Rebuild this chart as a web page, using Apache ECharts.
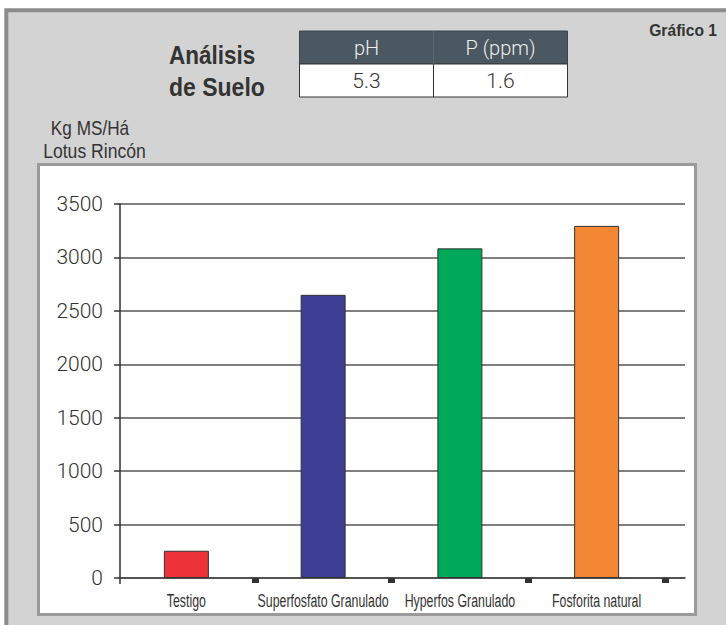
<!DOCTYPE html>
<html>
<head>
<meta charset="utf-8">
<script src="https://cdn.jsdelivr.net/npm/echarts@6/dist/echarts.min.js"></script>
<style>
html,body{margin:0;padding:0;background:#ffffff;}
#chart{width:726px;height:625px;}
</style>
</head>
<body>
<div id="chart"></div>
<script>
// ---- data ----
const categories = ['Testigo', 'Superfosfato Granulado', 'Hyperfos Granulado', 'Fosforita natural'];
const yieldValues = [255, 2650, 3085, 3295];
const yMin = 0, yMax = 3500, yStep = 500;
const soilHeaders = ['pH', 'P (ppm)'];
const soilValues = ['5.3', '1.6'];
const chartTitleLines = ['Análisis', 'de Suelo'];
const yUnitLines = ['Kg MS/Há', 'Lotus Rincón'];
const figureLabel = 'Gráfico 1';

// ---- styles ----
const barColors = ['#ee3338', '#3c3f93', '#00a859', '#f48733'];
const sans = "'Liberation Sans', Arial, sans-serif";
const light = "Roboto, 'Liberation Sans', sans-serif";

const chart = echarts.init(document.getElementById('chart'), null, {renderer: 'svg'});

const graphic = [
  // outer frame
  {type: 'rect', z: -20, shape: {x: 6.3, y: 10.3, width: 800, height: 700},
   style: {fill: '#d3d3d4', stroke: '#8c8c8c', lineWidth: 4}},
  // plot box
  {type: 'rect', z: -10, shape: {x: 38.5, y: 164.5, width: 657, height: 450},
   style: {fill: '#ffffff', stroke: '#9a9a9a', lineWidth: 3}},
  // figure label
  {type: 'text', x: 717, y: 30, scaleX: 0.92, style: {text: figureLabel, align: 'right', verticalAlign: 'middle',
    font: "bold 17px " + sans, fill: '#333'}},
  // title
  {type: 'text', x: 169, y: 55, scaleX: 0.9, style: {text: chartTitleLines[0], align: 'left', verticalAlign: 'middle',
    font: "bold 25px " + sans, fill: '#333'}},
  {type: 'text', x: 169, y: 87, scaleX: 0.92, style: {text: chartTitleLines[1], align: 'left', verticalAlign: 'middle',
    font: "bold 25px " + sans, fill: '#333'}},
  // unit label
  {type: 'text', x: 90, y: 128, scaleX: 0.86, style: {text: yUnitLines[0], align: 'center', verticalAlign: 'middle',
    font: "20px " + sans, fill: '#333'}},
  {type: 'text', x: 94.5, y: 151, scaleX: 0.88, style: {text: yUnitLines[1], align: 'center', verticalAlign: 'middle',
    font: "20px " + sans, fill: '#333'}},
  // soil table
  {type: 'rect', z: 1, shape: {x: 299.5, y: 31, width: 268, height: 33},
   style: {fill: '#4b5761', stroke: '#3a444c', lineWidth: 1}},
  {type: 'rect', z: 1, shape: {x: 299.5, y: 64, width: 268, height: 33},
   style: {fill: '#ffffff', stroke: '#333', lineWidth: 1}},
  {type: 'line', z: 2, shape: {x1: 433.5, y1: 31, x2: 433.5, y2: 64}, style: {stroke: '#5d6870', lineWidth: 1}},
  {type: 'line', z: 2, shape: {x1: 433.5, y1: 64, x2: 433.5, y2: 97}, style: {stroke: '#333', lineWidth: 1}},
  {type: 'text', z: 3, x: 366.5, y: 48, style: {text: soilHeaders[0], align: 'center', verticalAlign: 'middle',
    font: "300 20px " + light, fill: '#eeeeee'}},
  {type: 'text', z: 3, x: 500.5, y: 48, style: {text: soilHeaders[1], align: 'center', verticalAlign: 'middle',
    font: "300 20px " + light, fill: '#eeeeee'}},
  {type: 'text', z: 3, x: 366.5, y: 81, style: {text: soilValues[0], align: 'center', verticalAlign: 'middle',
    font: "300 21px " + light, fill: '#333'}},
  {type: 'text', z: 3, x: 500.5, y: 81, style: {text: soilValues[1], align: 'center', verticalAlign: 'middle',
    font: "300 21px " + light, fill: '#333'}}
];

const option = {
  animation: false,
  graphic: {elements: graphic},
  grid: [
    {left: 120, right: 41, top: 204, bottom: 47},
    {left: 118, right: 61, top: 204, bottom: 47}
  ],
  xAxis: [
    {type: 'value', gridIndex: 0, min: 0, max: 1,
     axisLine: {show: true, lineStyle: {color: '#444', width: 1.5}},
     axisTick: {show: true, customValues: [0], length: 6, lineStyle: {color: '#333', width: 1.5}},
     axisLabel: {show: false}, splitLine: {show: false}},
    {type: 'category', gridIndex: 1, data: categories,
     axisLine: {show: false},
     axisTick: {show: true, length: 5, interval: function (i) { return i !== 0; },
                lineStyle: {color: '#333', width: 7}},
     axisLabel: {show: false}}
  ],
  yAxis: [
    {type: 'value', gridIndex: 0, min: yMin, max: yMax, interval: yStep,
     axisLine: {show: true, lineStyle: {color: '#333', width: 1.5}},
     axisTick: {show: true, length: 6, lineStyle: {color: '#333', width: 1.5}},
     axisLabel: {margin: 17, fontFamily: light, fontWeight: 300, fontSize: 21, color: '#333',
                 formatter: function (v) { return String(v); }},
     splitLine: {show: true, lineStyle: {color: '#555', width: 1.5}}},
    {type: 'value', gridIndex: 1, min: yMin, max: yMax, interval: yStep, show: false}
  ],
  series: [{
    type: 'bar', xAxisIndex: 1, yAxisIndex: 1, barWidth: 45,
    data: yieldValues.map(function (v, i) {
      return {value: v, itemStyle: {color: barColors[i]}};
    }),
    itemStyle: {borderColor: '#333', borderWidth: 1}
  }]
};
chart.setOption(option);

// condensed category labels placed through the category axis scale
const labelEls = categories.map(function (c) {
  const px = chart.convertToPixel({xAxisIndex: 1}, c);
  return {type: 'text', x: px, y: 600, scaleX: 0.65,
    style: {text: c, align: 'center', verticalAlign: 'middle', font: "19px " + sans, fill: '#333'}};
});
chart.setOption({graphic: {elements: graphic.concat(labelEls)}});
</script>
</body>
</html>
